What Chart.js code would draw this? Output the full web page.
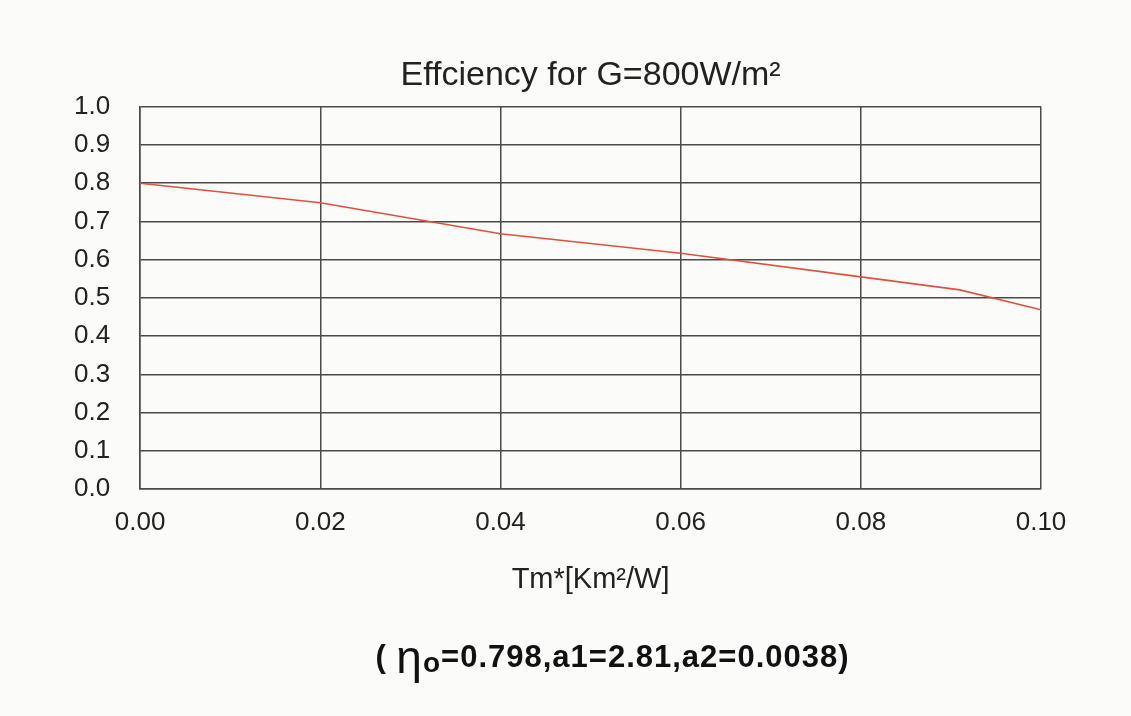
<!DOCTYPE html>
<html>
<head>
<meta charset="utf-8">
<script src="https://cdn.jsdelivr.net/npm/chart.js@4.4.0/dist/chart.umd.min.js"></script>
<style>
  html, body { margin: 0; padding: 0; background: #fbfbfa; }
  #wrap { position: relative; width: 1131px; height: 716px; }
  #note {
    position: absolute; left: 47px; width: 1131px; top: 630px;
    text-align: center; font-family: "Liberation Sans", Arial, sans-serif;
    font-weight: bold; font-size: 31px; color: #111; letter-spacing: 1px;
  }
  #note .eta { font-size: 46px; font-weight: normal; vertical-align: -6px; }
  #note sub { font-size: 28px; vertical-align: -5px; }
</style>
</head>
<body>
<div id="wrap">
  <canvas id="effChart" width="1131" height="716"></canvas>
  <div id="note">( <span class="eta">η</span><sub>o</sub>=0.798,a1=2.81,a2=0.0038)</div>
</div>
<script>
// data
const tmValues = [0, 0.02, 0.04, 0.06, 0.08, 0.091, 0.10];
const efficiency = [0.80, 0.749, 0.668, 0.617, 0.555, 0.521, 0.469];
const xTicks = [0, 0.02, 0.04, 0.06, 0.08, 0.10];
const yTicks = [0, 0.1, 0.2, 0.3, 0.4, 0.5, 0.6, 0.7, 0.8, 0.9, 1.0];

const font = "'Liberation Sans', Arial, sans-serif";
const gridColor = '#4a4a4a';

const ctx = document.getElementById('effChart').getContext('2d');
new Chart(ctx, {
    type: 'line',
    data: {
        datasets: [{
            data: tmValues.map((x, i) => ({ x: x, y: efficiency[i] })),
            borderColor: '#e0503f',
            borderWidth: 1.6,
            pointRadius: 0,
            tension: 0,
            fill: false
        }]
    },
    options: {
        responsive: false,
        animation: false,
        layout: { padding: { left: 44, right: 90, top: 55, bottom: 119 } },
        plugins: {
            legend: { display: false },
            tooltip: { enabled: false },
            title: {
                display: true,
                text: 'Effciency for G=800W/m²',
                fullSize: false,
                color: '#222',
                font: { family: font, size: 34, weight: 'normal' },
                padding: { top: 0, bottom: 11 }
            }
        },
        scales: {
            x: {
                type: 'linear',
                min: 0, max: 0.10,
                afterBuildTicks: axis => { axis.ticks = xTicks.map(v => ({ value: v })); },
                ticks: {
                    color: '#222',
                    font: { family: font, size: 26 },
                    padding: 18,
                    maxRotation: 0,
                    autoSkip: false,
                    callback: v => v.toFixed(2)
                },
                grid: { color: gridColor, lineWidth: 1.5, drawTicks: false },
                border: { color: gridColor, width: 1.5 },
                title: {
                    display: true,
                    text: 'Tm*[Km²/W]',
                    color: '#222',
                    font: { family: font, size: 29 },
                    padding: { top: 6, bottom: 0 }
                }
            },
            y: {
                min: 0, max: 1.0,
                afterBuildTicks: axis => { axis.ticks = yTicks.map(v => ({ value: v })); },
                ticks: {
                    color: '#222',
                    font: { family: font, size: 26 },
                    padding: 30,
                    autoSkip: false,
                    callback: v => v.toFixed(1)
                },
                grid: { color: gridColor, lineWidth: 1.5, drawTicks: false },
                border: { color: gridColor, width: 1.5 }
            }
        }
    }
});
</script>
</body>
</html>
